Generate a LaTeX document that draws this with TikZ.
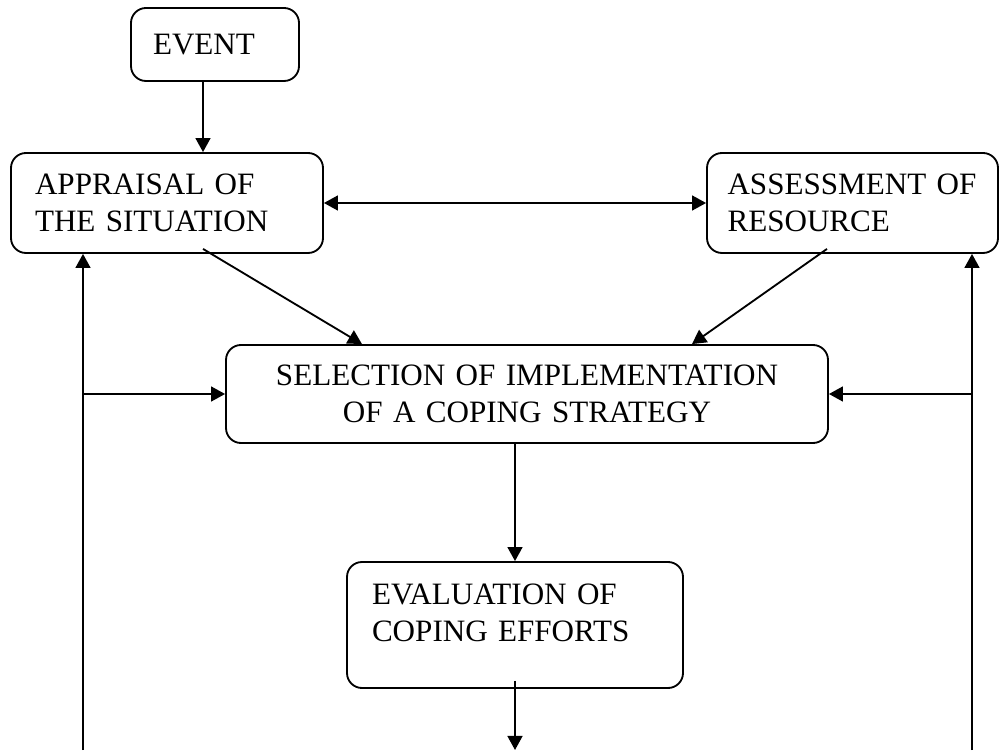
\documentclass[tikz,border=0pt]{standalone}
\usepackage{fontspec}
\setmainfont{Liberation Serif}
\usepackage{tikz}
\usetikzlibrary{arrows.meta}

\begin{document}
\begin{tikzpicture}[line width=1.05pt,
 >={Triangle[length=8pt,width=8.5pt]},
 box/.style={draw,rounded corners=0.3cm,align=left,inner ysep=0pt,
  font={\fontsize{17.7}{21}\selectfont}}]
 \useasboundingbox (0,0) rectangle (20.14,15);
 % boxes
 \node[box,text width=2.48cm,inner xsep=0.44cm,minimum height=1.46cm]
  (event) at (4.30,14.11) {EVENT};
 \node[box,text width=5.28cm,inner xsep=0.48cm,minimum height=2cm]
  (appraisal) at (3.34,10.94) {APPRAISAL OF\\THE SITUATION};
 \node[box,text width=5.0cm,inner xsep=0.41cm,minimum height=2cm]
  (assessment) at (17.05,10.94) {ASSESSMENT OF\\RESOURCE};
 \node[box,align=center,text width=11.04cm,inner xsep=0.5cm,minimum height=1.96cm]
  (selection) at (10.54,7.12) {SELECTION OF IMPLEMENTATION\\OF A COPING STRATEGY};
 \node[box,text width=5.72cm,inner xsep=0.5cm,minimum height=2.52cm]
  (evaluation) at (10.30,2.5) {EVALUATION OF\\COPING EFFORTS\\[-7pt]\mbox{}};
 % loose ends at the bottom
 \coordinate (leftfoot) at (1.66,0);
 \coordinate (rightfoot) at (19.44,0);
 \coordinate (exit) at (evaluation.south |- 0,0);
 % arrows
 \draw[->] ([xshift=-0.24cm]event.south) -- ([xshift=-0.24cm]event.south |- appraisal.north);
 \draw[<->] (appraisal) -- (assessment);
 \draw[->] ([xshift=0.72cm,yshift=0.1cm]appraisal.south) -- ([xshift=-3.3cm]selection.north);
 \draw[->] ([xshift=-0.51cm,yshift=0.1cm]assessment.south) -- ([xshift=3.3cm]selection.north);
 \draw[->] (evaluation.north |- selection.south) -- (evaluation.north);
 \draw[->] ([yshift=0.16cm]evaluation.south) -- (exit);
 \draw[->] (leftfoot) -- (leftfoot |- appraisal.south);
 \draw[->] (leftfoot |- selection.west) -- (selection.west);
 \draw[->] (rightfoot) -- (rightfoot |- assessment.south);
 \draw[->] (rightfoot |- selection.east) -- (selection.east);
\end{tikzpicture}
\end{document}
